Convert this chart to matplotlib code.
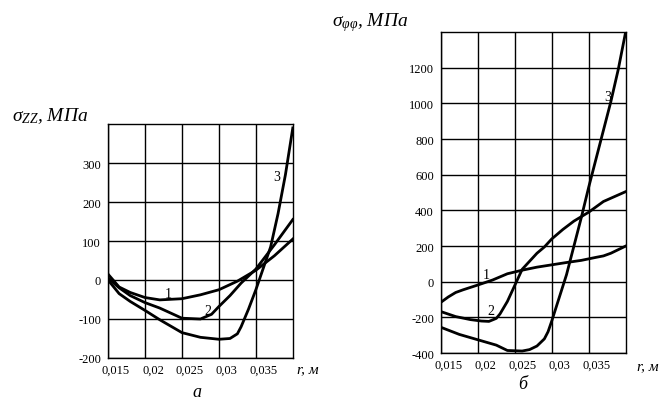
import numpy as np
import matplotlib
matplotlib.use("Agg")
import matplotlib.pyplot as plt
from matplotlib.transforms import ScaledTranslation

plt.rcParams['font.family'] = ['Liberation Serif', 'DejaVu Serif']
plt.rcParams['mathtext.fontset'] = 'custom'
plt.rcParams['mathtext.rm'] = 'Liberation Serif'
plt.rcParams['mathtext.it'] = 'Liberation Serif:italic'

# --- chart a: sigma_zz ---
r_zz1 = [0.015, 0.0165, 0.018, 0.02, 0.022, 0.025, 0.0275, 0.03, 0.0325, 0.035, 0.0375, 0.04]
zz1 = [15, -18, -32, -45, -51, -48, -38, -25, -3, 25, 62, 105]

r_zz2 = [0.015, 0.0165, 0.018, 0.02, 0.022, 0.025, 0.0275, 0.029, 0.03, 0.0315, 0.033, 0.035, 0.0375, 0.04]
zz2 = [5, -20, -40, -58, -72, -98, -100, -88, -68, -40, -8, 28, 90, 155]

r_zz3 = [0.015, 0.0165, 0.018, 0.02, 0.022, 0.025, 0.0275, 0.03, 0.0315, 0.0325, 0.033, 0.034,
         0.035, 0.036, 0.037, 0.038, 0.039, 0.04]
zz3 = [0, -35, -55, -78, -102, -135, -147, -152, -150, -138, -120, -75,
       -25, 30, 85, 170, 270, 390]

# --- chart b: sigma_phiphi ---
r_ff1 = [0.015, 0.016, 0.017, 0.018, 0.02, 0.022, 0.024, 0.026, 0.028, 0.03, 0.032, 0.034,
         0.036, 0.037, 0.038, 0.039, 0.04]
ff1 = [-115, -85, -60, -45, -18, 10, 45, 65, 82, 95, 108, 120, 137, 145, 160, 180, 200]

r_ff2 = [0.015, 0.017, 0.019, 0.0205, 0.0215, 0.0225, 0.023, 0.024, 0.025, 0.026, 0.027, 0.028,
         0.029, 0.03, 0.0315, 0.033, 0.035, 0.037, 0.04]
ff2 = [-167, -195, -212, -220, -222, -205, -180, -110, -20, 70, 115, 160,
       195, 240, 293, 340, 390, 450, 505]

r_ff3 = [0.015, 0.0175, 0.02, 0.0225, 0.024, 0.026, 0.027, 0.028, 0.029, 0.0295, 0.03, 0.031,
         0.032, 0.033, 0.034, 0.035, 0.036, 0.037, 0.038, 0.039, 0.04]
ff3 = [-255, -295, -325, -355, -385, -388, -380, -360, -320, -280, -220, -90,
       40, 200, 360, 530, 690, 850, 1010, 1190, 1400]

x_ticks = [0.015, 0.02, 0.025, 0.03, 0.035]
x_labels = ['0,015', '0,02', '0,025', '0,03', '0,035']
zz_ticks = [-200, -100, 0, 100, 200, 300]
ff_ticks = [-400, -200, 0, 200, 400, 600, 800, 1000, 1200]

fig = plt.figure(figsize=(6.67, 4.02), dpi=100)
ax1 = fig.add_axes([0.162, 0.107, 0.277, 0.582])
ax2 = fig.add_axes([0.661, 0.119, 0.277, 0.799])


def setup(ax, yticks, ylim):
    ax.set_xlim(0.015, 0.04)
    ax.set_ylim(*ylim)
    ax.set_xticks(x_ticks)
    ax.set_xticklabels(x_labels)
    ax.set_yticks(yticks)
    ax.set_yticklabels([str(v) for v in yticks])
    ax.grid(True, color='black', lw=1.0)
    ax.tick_params(length=0, labelsize=9, pad=5)
    ax.tick_params(axis='x', pad=4)
    for s in ax.spines.values():
        s.set_linewidth(1.0)
    off = ScaledTranslation(8 / 100, 0, fig.dpi_scale_trans)
    for lab in ax.get_xticklabels():
        lab.set_transform(lab.get_transform() + off)


setup(ax1, zz_ticks, (-200, 400))
setup(ax2, ff_ticks, (-400, 1400))

for xs, ys in [(r_zz1, zz1), (r_zz2, zz2), (r_zz3, zz3)]:
    ax1.plot(xs, ys, color='black', lw=2.0)
for xs, ys in [(r_ff1, ff1), (r_ff2, ff2), (r_ff3, ff3)]:
    ax2.plot(xs, ys, color='black', lw=2.0)

ax1.text(0.0231, -34, '1', fontsize=10, ha='center', va='center')
ax1.text(0.0285, -77, '2', fontsize=10, ha='center', va='center')
ax1.text(0.0378, 265, '3', fontsize=10, ha='center', va='center')
ax2.text(0.0212, 40, '1', fontsize=10, ha='center', va='center')
ax2.text(0.0218, -160, '2', fontsize=10, ha='center', va='center')
ax2.text(0.0376, 1036, '3', fontsize=10, ha='center', va='center')

# axis titles
fig.text(12 / 667, 1 - 121 / 402, r'$\sigma_{ZZ}$, МПа', fontsize=14, style='italic',
         ha='left', va='baseline')
fig.text(332 / 667, 1 - 26 / 402, r'$\sigma_{\varphi\varphi}$, МПа', fontsize=14, style='italic',
         ha='left', va='baseline')
fig.text(297 / 667, 1 - 373 / 402, 'r, м', fontsize=11, style='italic', ha='left', va='baseline')
fig.text(637 / 667, 1 - 370 / 402, 'r, м', fontsize=11, style='italic', ha='left', va='baseline')

fig.text(197 / 667, 1 - 397 / 402, 'а', fontsize=13, style='italic', ha='center', va='baseline')
fig.text(523 / 667, 1 - 389 / 402, 'б', fontsize=13, style='italic', ha='center', va='baseline')

fig.savefig('out.png', dpi=100)
